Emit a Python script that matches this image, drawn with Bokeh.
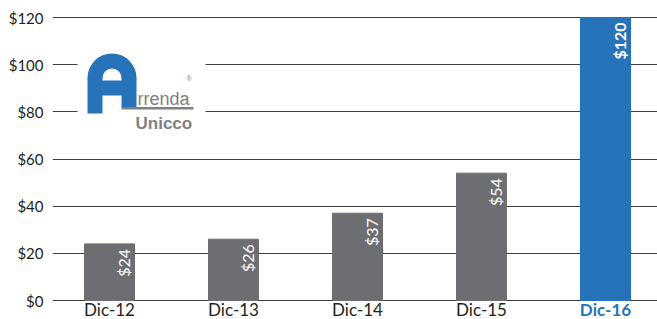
import math
from bokeh.plotting import figure
from bokeh.models import FixedTicker, Range1d, ColumnDataSource
from bokeh.core.properties import value
from bokeh.embed import file_html
from bokeh.resources import INLINE

# ---- data ----
categories = ["Dic-12", "Dic-13", "Dic-14", "Dic-15", "Dic-16"]
values = [24, 26, 37, 54, 120]
value_labels = ["$24", "$26", "$37", "$54", "$120"]
y_ticks = [0, 20, 40, 60, 80, 100, 120]
y_tick_labels = ["$0", "$20", "$40", "$60", "$80", "$100", "$120"]
highlight = "Dic-16"

# ---- style ----
GRAY = "#6d6e71"
BLUE = "#2773b9"
TXT = "#231f20"
LOGO_GRAY = "#7f8083"
FONT = "Lato"
BAR_W = 0.403
K = 283 / 120.0  # px per dollar

xs = list(range(len(categories)))
colors = [BLUE if c == highlight else GRAY for c in categories]
styles = ["bold" if c == highlight else "normal" for c in categories]
cat_colors = [BLUE if c == highlight else TXT for c in categories]

p = figure(width=657, height=319, output_backend="svg", toolbar_location=None,
           x_range=Range1d(-57 / 124.0, -57 / 124.0 + 605 / 124.0),
           y_range=Range1d(-19 / K, 120 + 7 / K),
           min_border_left=52, min_border_right=0, min_border_top=10,
           min_border_bottom=0)
p.outline_line_color = None
p.background_fill_color = "white"
p.border_fill_color = "white"
p.xaxis.visible = False

# grid
p.xgrid.grid_line_color = None
p.ygrid.grid_line_color = "#3f3f3f"
p.ygrid.grid_line_width = 1.2
p.yaxis.ticker = FixedTicker(ticks=y_ticks)
p.ygrid.ticker = FixedTicker(ticks=y_ticks)

# y axis
p.yaxis.major_label_overrides = {t: l for t, l in zip(y_ticks, y_tick_labels)}
p.yaxis.axis_line_color = None
p.yaxis.major_tick_line_color = None
p.yaxis.minor_tick_line_color = None
p.yaxis.major_tick_out = 0
p.yaxis.major_tick_in = 0
p.yaxis.major_label_standoff = 9
p.yaxis.major_label_text_font = FONT
p.yaxis.major_label_text_font_size = "15px"
p.yaxis.major_label_text_color = TXT

# bars
src = ColumnDataSource(dict(x=xs, top=values, color=colors, cat=categories,
                            base=[0] * len(xs), cat_color=cat_colors,
                            lx=[x + BAR_W / 2 for x in xs], lab=value_labels,
                            style=styles))
p.vbar(x="x", top="top", width=BAR_W, color="color", source=src)

# category labels (below the zero line)
p.text(x="x", y="base", text="cat", source=src, text_align="center",
       text_baseline="top", y_offset=-2, text_font=value(FONT),
       text_font_size="17px", text_color="cat_color", text_font_style="style")

# value labels (rotated)
p.text(x="lx", y="top", text="lab", source=src, angle=math.pi / 2,
       text_align="right", text_baseline="bottom", x_offset=-1, y_offset=5,
       text_font=value(FONT), text_font_size="16px", text_color="white",
       text_font_style="style")

# ---- logo (decoration, positioned in pixels) ----
def lx_(px):
    return (px - 109) / 124.0

def ly_(py):
    return (300 - py) / K

p.quad(left=[lx_(77)], right=[lx_(205)], top=[ly_(47)], bottom=[ly_(136)],
       color="white", line_color=None)
p.annular_wedge(x=[lx_(111.5)], y=[ly_(77.5)], inner_radius=9.5, outer_radius=24.5,
                inner_radius_units="screen", outer_radius_units="screen",
                start_angle=0, end_angle=math.pi, color=BLUE, line_color=None)
p.quad(left=[lx_(87), lx_(121), lx_(101.5)], right=[lx_(102), lx_(136), lx_(121.5)],
       top=[ly_(77), ly_(77), ly_(80)], bottom=[ly_(113), ly_(107), ly_(95)],
       color=BLUE, line_color=None)
p.quad(left=[lx_(121)], right=[lx_(193)], top=[ly_(106.5)], bottom=[ly_(109)],
       color=LOGO_GRAY, line_color=None)
p.text(x=[lx_(137)], y=[ly_(98)], text=["rrenda"], text_baseline="alphabetic",
       text_font=value("Liberation Sans"), text_font_size="18px", text_color=LOGO_GRAY)
p.text(x=[lx_(135)], y=[ly_(123)], text=["Unicco"], text_baseline="alphabetic",
       text_font=value("Liberation Sans"), text_font_size="17px", text_font_style="bold",
       text_color=LOGO_GRAY)
p.text(x=[lx_(186)], y=[ly_(78)], text=["®"], text_baseline="alphabetic",
       text_font=value("Liberation Sans"), text_font_size="7px", text_color=LOGO_GRAY)

open("out.html", "w").write(file_html(p, INLINE))
